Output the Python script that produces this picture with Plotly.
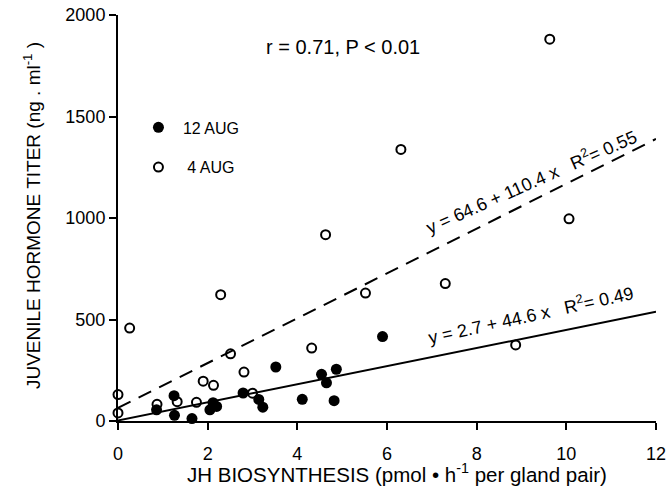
import plotly.graph_objects as go

# 12 AUG (filled circles)
aug12_x = [0.86, 1.25, 1.26, 1.65, 2.05, 2.12, 2.20, 2.79, 3.14, 3.23, 3.52, 4.11, 4.54, 4.65, 4.87, 4.82, 5.90]
aug12_y = [55, 125, 28, 12, 55, 90, 72, 138, 106, 68, 266, 107, 230, 188, 255, 100, 416]

# 4 AUG (open circles)
aug4_x = [0.0, 0.0, 0.26, 0.87, 1.32, 1.75, 1.90, 2.13, 2.29, 2.51, 2.81, 3.00, 4.32, 4.63, 5.52, 6.31, 7.30, 8.87, 9.63, 10.06]
aug4_y = [130, 40, 458, 82, 95, 92, 196, 176, 622, 331, 241, 137, 359, 918, 630, 1338, 677, 375, 1881, 996]

# regression lines (from the equations printed on the chart)
fit_x_range = [0, 12]
fit4_intercept, fit4_slope = 64.6, 110.4
fit12_intercept, fit12_slope = 2.7, 44.6

x_ticks = [0, 2, 4, 6, 8, 10, 12]
y_ticks = [0, 500, 1000, 1500, 2000]

FONT = "Liberation Sans, Arial, Helvetica, sans-serif"
NB = "\u00a0"

fig = go.Figure()

fig.add_trace(go.Scatter(
    x=fit_x_range, y=[fit4_intercept + fit4_slope * v for v in fit_x_range],
    mode="lines", line=dict(color="black", width=2, dash="14px,9px"),
    showlegend=False, hoverinfo="skip"))
fig.add_trace(go.Scatter(
    x=fit_x_range, y=[fit12_intercept + fit12_slope * v for v in fit_x_range],
    mode="lines", line=dict(color="black", width=2),
    showlegend=False, hoverinfo="skip"))

fig.add_trace(go.Scatter(
    x=aug12_x, y=aug12_y, mode="markers", name=NB + "12 AUG", legendgroup="a",
    marker=dict(symbol="circle", size=11, color="black", line=dict(width=0)),
    cliponaxis=False))
fig.add_trace(go.Scatter(
    x=aug4_x, y=aug4_y, mode="markers", name=NB * 2 + "4 AUG", legendgroup="b",
    marker=dict(symbol="circle-open", size=9, color="black", line=dict(width=2)),
    cliponaxis=False))

fig.add_annotation(x=5.01, y=1842, text="r = 0.71, P < 0.01", showarrow=False,
                   font=dict(size=20, color="black", family=FONT))
fig.add_annotation(x=9.21, y=1180,
                   text="y = 64.6 + 110.4 x" + NB * 3 + "R<sup>2</sup>= 0.55",
                   showarrow=False, textangle=-24,
                   font=dict(size=18, color="black", family=FONT))
fig.add_annotation(x=9.21, y=523,
                   text="y = 2.7 + 44.6 x" + NB * 3 + "R<sup>2</sup>= 0.49",
                   showarrow=False, textangle=-12.5,
                   font=dict(size=18, color="black", family=FONT))

# axis titles
fig.add_annotation(xref="paper", yref="paper", x=0.518, y=-0.128,
                   xanchor="center", yanchor="middle",
                   text="JH BIOSYNTHESIS (pmol \u2022 h<sup>-1</sup> per gland pair)",
                   showarrow=False, font=dict(size=20.5, color="black", family=FONT))
fig.add_annotation(xref="paper", yref="paper", x=-0.16, y=0.507, textangle=-90,
                   xanchor="center", yanchor="middle",
                   text="JUVENILE HORMONE TITER (ng . ml<sup>-1</sup> )",
                   showarrow=False, font=dict(size=19, color="black", family=FONT))

fig.update_layout(
    width=672, height=493,
    margin=dict(l=118, r=16, t=15, b=72, autoexpand=False),
    paper_bgcolor="white", plot_bgcolor="white",
    font=dict(family=FONT, color="black", size=18),
    legend=dict(x=0.038, y=0.765, xanchor="left", yanchor="top",
                traceorder="grouped", tracegroupgap=16,
                font=dict(size=16), bgcolor="rgba(0,0,0,0)", itemwidth=30),
    xaxis=dict(range=[0, 12], tickvals=x_ticks, showgrid=False, zeroline=False,
               showline=True, linecolor="black", linewidth=2,
               ticks="outside", ticklen=7, tickwidth=2, tickcolor="black",
               ticklabelstandoff=8, tickfont=dict(size=18)),
    yaxis=dict(range=[0, 2000], tickvals=y_ticks, showgrid=False, zeroline=False,
               showline=True, linecolor="black", linewidth=2,
               ticks="outside", ticklen=7, tickwidth=2, tickcolor="black",
               tickfont=dict(size=18)),
)

fig.write_html("out.html", config={"displayModeBar": False},
               post_script="document.body.style.margin='0';")
